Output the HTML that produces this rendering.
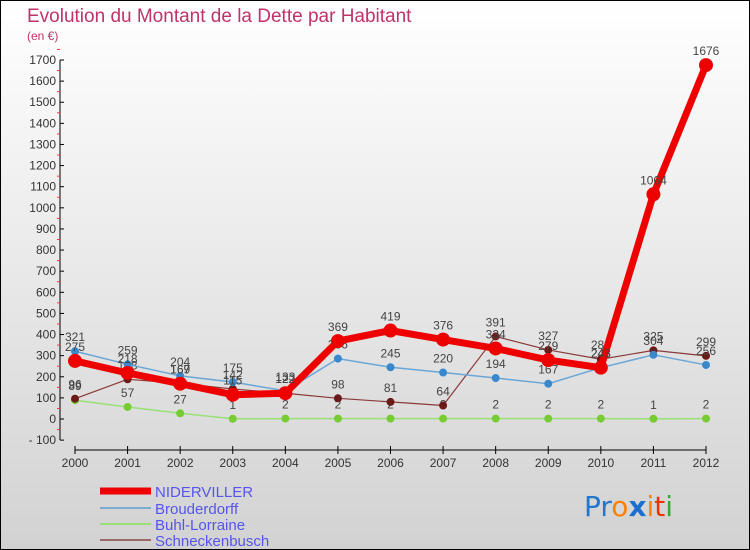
<!DOCTYPE html>
<html><head><meta charset="utf-8"><style>
body{margin:0;width:750px;height:550px;overflow:hidden}
svg{display:block;font-family:"Liberation Sans",sans-serif}
</style></head><body>
<svg id="c" width="750" height="550">
<defs><linearGradient id="bg" x1="0" y1="0" x2="0" y2="1"><stop offset="0" stop-color="#ffffff"/><stop offset="1" stop-color="#d2d2d2"/></linearGradient></defs>
<rect x="0.5" y="0.5" width="749" height="549" fill="url(#bg)" stroke="#000"/>
<text x="27" y="22" font-size="19" fill="#c0336a">Evolution du Montant de la Dette par Habitant</text>
<text x="27" y="40" font-size="12" fill="#c0336a">(en €)</text>
<g id="axes"></g><g id="series"></g>
<g>
<line x1="100" y1="491" x2="151" y2="491" stroke="#ee0000" stroke-width="7"/>
<text x="155" y="497" font-size="15" fill="#5555ee">NIDERVILLER</text>
<line x1="100" y1="508" x2="151" y2="508" stroke="#7aaed0" stroke-width="2"/>
<text x="155" y="514" font-size="15" fill="#5555ee">Brouderdorff</text>
<line x1="100" y1="524" x2="151" y2="524" stroke="#99e077" stroke-width="2"/>
<text x="155" y="530" font-size="15" fill="#5555ee">Buhl-Lorraine</text>
<line x1="100" y1="540" x2="151" y2="540" stroke="#9a6a6a" stroke-width="2"/>
<text x="155" y="546" font-size="15" fill="#5555ee">Schneckenbusch</text>
</g>
<g font-size="28" font-family="'DejaVu Sans',sans-serif">
<text x="584" y="516"><tspan fill="#2277cc">Pr</tspan><tspan fill="#ff7f00">o</tspan><tspan fill="#1a6fd0" font-weight="bold">x</tspan><tspan fill="#ff7f00">i</tspan><tspan fill="#ee3300">t</tspan><tspan fill="#33aa33">i</tspan></text>
</g>
</svg>
<script>
const years=[2000,2001,2002,2003,2004,2005,2006,2007,2008,2009,2010,2011,2012];
const yTicks=[-100,0,100,200,300,400,500,600,700,800,900,1000,1100,1200,1300,1400,1500,1600,1700];
const niderviller=[275,218,167,115,122,369,419,376,334,279,243,1064,1676];
const brouderdorff=[321,259,204,175,133,286,245,220,194,167,243,304,256];
const buhl=[89,57,27,1,2,2,2,2,2,2,2,1,2];
const schneck=[96,188,169,142,122,98,81,64,391,327,283,325,299];
const NS='http://www.w3.org/2000/svg';
const X=i=>75+i*(706-75)/12;
const Y=v=>419-v*(359/1700);
function mk(tag,attrs,parent){const e=document.createElementNS(NS,tag);for(const k in attrs)e.setAttribute(k,attrs[k]);parent.appendChild(e);return e;}
const ax=document.getElementById('axes');
let yl=mk('line',{x1:60,y1:Y(1700),x2:60,y2:Y(-100),stroke:'#000'},ax);


yTicks.forEach(v=>{
 mk('line',{x1:60,y1:Y(v),x2:64,y2:Y(v),stroke:'#000'},ax);
 mk('line',{x1:57,y1:Y(v+50),x2:60,y2:Y(v+50),stroke:'#f33'},ax);
 const t=mk('text',{x:56,y:Y(v)+4,'font-size':12,fill:'#333','text-anchor':'end'},ax);
 t.textContent=v<0?'- '+(-v):v;
 
 
});
let xl=mk('line',{x1:X(0),y1:450,x2:X(12),y2:450,stroke:'#000'},ax);


years.forEach((y,i)=>{
 mk('line',{x1:X(i),y1:446,x2:X(i),y2:454,stroke:'#000'},ax);
 const t=mk('text',{x:X(i),y:467,'font-size':12,fill:'#333','text-anchor':'middle'},ax);
 t.textContent=y;
 
 
});
const sg=document.getElementById('series');
function series(name,vals,color,w,r,fill){
 const g=mk('g',{},sg);
 
 
 const p=mk('polyline',{points:vals.map((v,i)=>X(i)+','+Y(v)).join(' '),fill:'none',stroke:color,'stroke-width':w,'stroke-linejoin':'round'},g);
 
 
 vals.forEach((v,i)=>{
  const c=mk('circle',{cx:X(i),cy:Y(v),r:r,fill:fill},g);
  
  
  const t=mk('text',{x:X(i),y:Y(v)-10,'font-size':12,fill:'#444','text-anchor':'middle'},g);
  t.textContent=v;
  
  
 });
}
series('buhl-lorraine',buhl,'#99e077',1.5,4,'#77cc33');
series('schneckenbusch',schneck,'#8a3a3a',1.2,4,'#6b1a1a');
series('brouderdorff',brouderdorff,'#6aa6d6',1.5,4,'#3a88cc');
series('niderviller',niderviller,'#ee0000',7,7,'#ee0000');
</script>
</body></html>
